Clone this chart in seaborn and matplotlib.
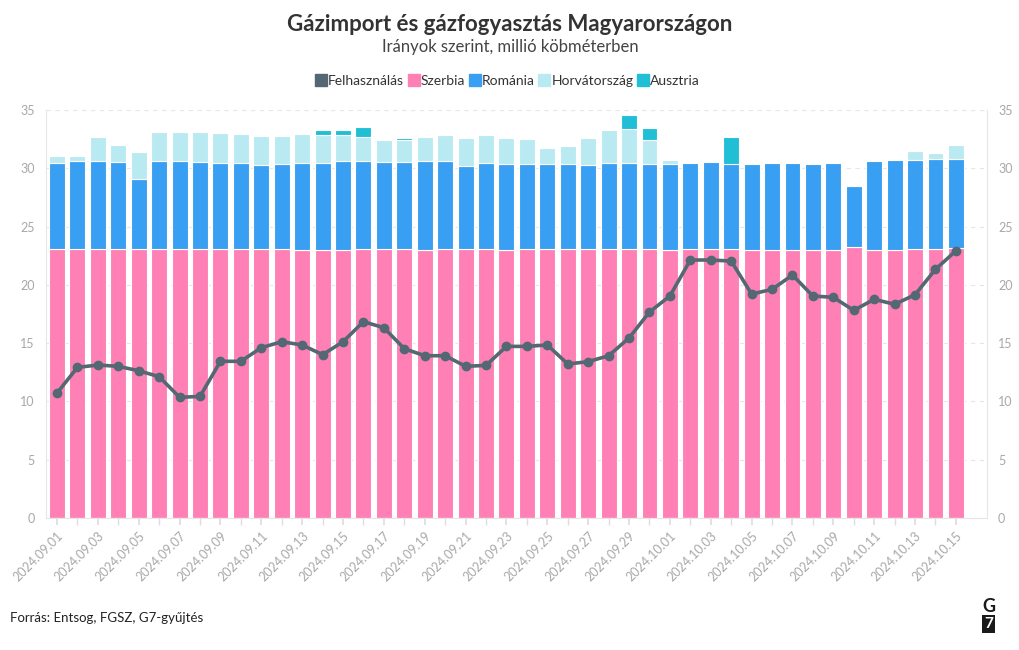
import numpy as np
import pandas as pd
import seaborn as sns
import matplotlib.pyplot as plt
from matplotlib.lines import Line2D

''' DATA '''
dates = pd.date_range('2024-09-01', '2024-10-15', freq='D')
labels = [d.strftime('%Y.%m.%d') for d in dates]

szerbia = [23.1, 23.1, 23.1, 23.05, 23.05, 23.1, 23.05, 23.05, 23.05, 23.05,
           23.05, 23.1, 23.0, 22.95, 23.0, 23.1, 23.05, 23.05, 23.0, 23.05,
           23.05, 23.05, 23.0, 23.05, 23.05, 23.05, 23.05, 23.05, 23.1, 23.05,
           23.0, 23.05, 23.05, 23.05, 23.0, 23.0, 23.0, 22.95, 23.0, 23.25,
           22.95, 23.0, 23.05, 23.1, 23.15]
romania = [7.32, 7.49, 7.49, 7.51, 6.0, 7.49, 7.54, 7.48, 7.43, 7.37,
           7.2, 7.23, 7.48, 7.47, 7.59, 7.49, 7.45, 7.45, 7.59, 7.6,
           7.14, 7.37, 7.33, 7.34, 7.34, 7.34, 7.25, 7.43, 7.38, 7.34,
           7.36, 7.4, 7.45, 7.34, 7.36, 7.45, 7.45, 7.44, 7.42, 5.2,
           7.7, 7.7, 7.65, 7.69, 7.67]
horvatorszag = [0.66, 0.49, 2.09, 1.4, 2.37, 2.51, 2.54, 2.57, 2.54, 2.51,
                2.54, 2.46, 2.45, 2.45, 2.28, 2.06, 1.92, 1.92, 2.11, 2.17,
                2.4, 2.46, 2.23, 2.11, 1.34, 1.51, 2.29, 2.77, 2.85, 2.03,
                0.34, 0, 0, 0, 0, 0, 0, 0, 0, 0.15,
                0, 0, 0.77, 0.51, 1.2]
ausztria = [0, 0, 0, 0, 0, 0, 0, 0, 0, 0,
            0, 0, 0, 0.45, 0.45, 0.91, 0, 0.17, 0, 0,
            0, 0, 0, 0, 0, 0, 0, 0, 1.23, 1.0,
            0, 0, 0, 2.26, 0, 0, 0, 0, 0, 0,
            0, 0, 0, 0, 0]
felhasznalas = [10.72, 12.92, 13.12, 13.01, 12.63, 12.12, 10.35, 10.43, 13.44, 13.44,
                14.61, 15.12, 14.84, 14.01, 15.12, 16.84, 16.32, 14.52, 13.92, 13.92,
                13.01, 13.09, 14.72, 14.72, 14.84, 13.21, 13.41, 13.92, 15.44, 17.67,
                19.04, 22.13, 22.13, 22.04, 19.21, 19.61, 20.84, 19.04, 18.93, 17.81,
                18.76, 18.33, 19.15, 21.33, 22.92]

colors = {'Felhasználás': '#536873', 'Szerbia': '#ff80b5', 'Románia': '#399ff2',
          'Horvátország': '#b9eaf1', 'Ausztria': '#20bfd5'}

''' PLOT '''
sns.set_theme(style='white')
plt.rcParams['font.family'] = ['Lato', 'DejaVu Sans']

fig = plt.figure(figsize=(10.2, 6.5), dpi=100)
ax = fig.add_axes([0.0451, 0.2031, 0.9225, 0.6277])

df = pd.DataFrame({'Szerbia': szerbia, 'Románia': romania,
                   'Horvátország': horvatorszag, 'Ausztria': ausztria}, index=labels)
df.plot(kind='bar', stacked=True, ax=ax, width=0.78, legend=False,
        color=[colors[c] for c in df.columns], edgecolor='white', linewidth=0.8)

x = np.arange(len(labels))
ax.plot(x, felhasznalas, color=colors['Felhasználás'], lw=2.6, marker='o',
        markersize=6, zorder=5)

ax.set_xlim(-0.54, 45.52)
ax.set_ylim(0, 35)
ax.set_yticks(range(0, 36, 5))
ax.yaxis.grid(True, color='#e6e6e6', linestyle=(0, (4, 4)), lw=0.8)
ax.set_axisbelow(True)
ax.spines['top'].set_visible(False)
for s in ['left', 'right', 'bottom']:
    ax.spines[s].set_color('#e6e6e6')
    ax.spines[s].set_linewidth(0.8)

ax.set_xticks(x, minor=True)
ax.set_xticks(x[::2])
ax.set_xticklabels(labels[::2], rotation=45, ha='right', rotation_mode='anchor',
                   color='#a8a8a8', fontsize=9)
ax.tick_params(axis='x', which='both', length=5, color='#dddddd', bottom=True)
ax.tick_params(axis='y', labelsize=9, labelcolor='#a8a8a8', length=0, pad=8)
ax.set_xlabel('')

ax2 = ax.twinx()
ax2.set_ylim(0, 35)
ax2.set_yticks(range(0, 36, 5))
ax2.tick_params(axis='y', labelsize=9, labelcolor='#a8a8a8', length=0, pad=8)
for s in ax2.spines.values():
    s.set_visible(False)
ax2.grid(False)

fig.text(0.5, 0.962, 'Gázimport és gázfogyasztás Magyarországon', ha='center',
         va='center', fontsize=16, fontweight='bold', color='#333333')
fig.text(0.5, 0.927, 'Irányok szerint, millió köbméterben', ha='center',
         va='center', fontsize=12, color='#444444')

handles = [Line2D([], [], marker='s', linestyle='', markersize=9,
                  markerfacecolor=colors[k], markeredgecolor=colors[k])
           for k in colors]
fig.legend(handles, list(colors.keys()), loc='center', bbox_to_anchor=(0.497, 0.875),
           ncol=5, frameon=False, handletextpad=0.0, columnspacing=0.2,
           handlelength=1.0, fontsize=10, labelcolor='#333333')

fig.text(0.01, 0.05, 'Forrás: Entsog, FGSZ, G7-gyűjtés', ha='left', va='center',
         fontsize=9.5, color='#222222')
fig.text(0.969, 0.067, 'G', ha='center', va='center', fontsize=13,
         fontweight='bold', color='#1a1a1a')
fig.text(0.969, 0.04, '7', ha='center', va='center', fontsize=11,
         fontweight='bold', color='white',
         bbox=dict(boxstyle='square,pad=0.12', fc='#1a1a1a', ec='none'))

plt.savefig('out.png', dpi=100)
